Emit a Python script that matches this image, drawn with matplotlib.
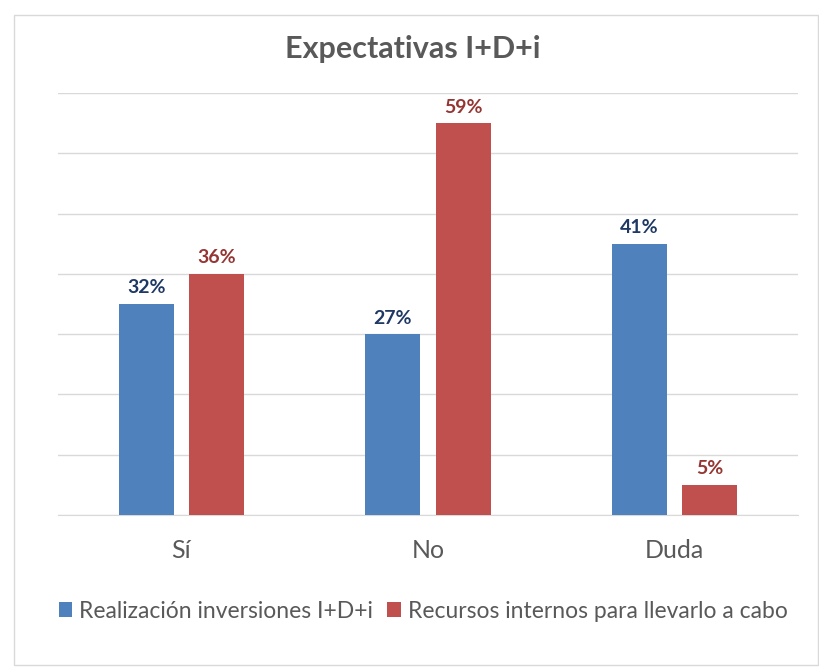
import matplotlib.pyplot as plt
import numpy as np
from matplotlib.patches import Rectangle

plt.rcParams['font.family'] = ['Lato', 'DejaVu Sans']

categories = ['Sí', 'No', 'Duda']
series_names = ['Realización inversiones I+D+i', 'Recursos internos para llevarlo a cabo']
# respuestas (22 empresas)
realizacion = [7, 6, 9]
recursos = [8, 13, 1]
total = 22

bar_colors = ['#4F81BD', '#C0504D']
label_colors = ['#1F3864', '#943634']
gray = '#595959'

fig = plt.figure(figsize=(8.2, 6.69), dpi=100)
fig.patches.append(Rectangle((14/820, 4/669), 804/820, 650/669, transform=fig.transFigure,
                             fill=False, edgecolor='#D9D9D9', linewidth=1))
ax = fig.add_axes([58/820, 154/669, 740/820, 422/669])

x = np.arange(len(categories))
w = 0.223
off = 0.142
for vals, c, lc, d, name in zip([realizacion, recursos], bar_colors, label_colors, [-off, off], series_names):
    bars = ax.bar(x + d, vals, w, color=c, label=name, zorder=3)
    for b, v in zip(bars, vals):
        ax.text(b.get_x() + b.get_width()/2, v + 0.25, f'{round(v/total*100)}%',
                ha='center', va='bottom', color=lc, fontsize=14, fontweight='bold')

ax.set_xlim(-0.5, 2.5)
ax.set_ylim(0, 14)
ax.set_yticks(np.arange(0, 15, 2))
ax.yaxis.grid(True, color='#D9D9D9', linewidth=1, zorder=0)
ax.tick_params(axis='y', length=0, labelleft=False)
ax.tick_params(axis='x', length=0, pad=17, labelsize=18, labelcolor=gray)
ax.set_xticks(x)
ax.set_xticklabels(categories)
for s in ['top', 'right', 'left']:
    ax.spines[s].set_visible(False)
ax.spines['bottom'].set_color('#D9D9D9')

fig.text(413/820, 1 - 49/669, 'Expectativas I+D+i', ha='center', va='center',
         fontsize=22, fontweight='bold', color=gray)

fig.legend(loc='center', bbox_to_anchor=(423/820, 1 - 611/669), ncol=2, frameon=False,
           fontsize=16.5, labelcolor=gray, handlelength=0.6, handleheight=0.6,
           handletextpad=0.3, columnspacing=0.6)

fig.savefig('out.png', dpi=100)
